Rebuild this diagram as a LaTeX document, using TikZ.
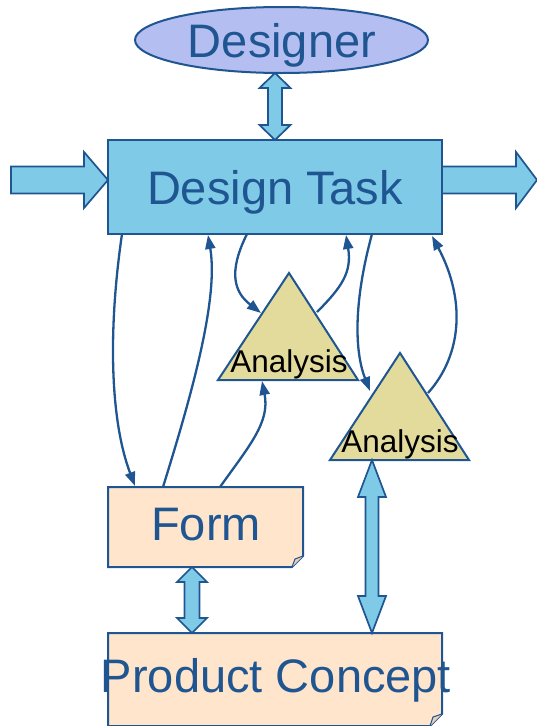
\documentclass[tikz,border=0pt]{standalone}
\usepackage{fontspec}
\setmainfont{Liberation Sans}
\usetikzlibrary{arrows.meta,calc,shapes.geometric}
\definecolor{dblue}{RGB}{31,85,145}
\definecolor{sky}{RGB}{127,202,230}
\definecolor{lav}{RGB}{180,190,240}
\definecolor{khaki}{RGB}{227,219,155}
\definecolor{peach}{RGB}{254,229,204}
\definecolor{flap}{RGB}{232,206,182}
\newcommand{\vdarrow}[5]{%
  \draw[blockarrow] (#1) -- ($(#1)+(#4,#5)$) -- ($(#1)+(#3,#5)$) -- ($(#2)+(#3,-#5)$) -- ($(#2)+(#4,-#5)$) -- (#2) -- ($(#2)+(-#4,-#5)$) -- ($(#2)+(-#3,-#5)$) -- ($(#1)+(-#3,#5)$) -- ($(#1)+(-#4,#5)$) -- cycle;}
\newcommand{\hsarrow}[5]{%
  \draw[blockarrow] ($(#1)+(0,-#3)$) -- ($(#2)+(-#5,-#3)$) -- ($(#2)+(-#5,-#4)$) -- (#2) -- ($(#2)+(-#5,#4)$) -- ($(#2)+(-#5,#3)$) -- ($(#1)+(0,#3)$) -- cycle;}
\tikzset{
  blockarrow/.style={draw=dblue, fill=sky, line width=1.7pt, line join=miter},
  bigtext/.style={text=dblue, font=\fontsize{47}{50}\selectfont, inner sep=0pt, anchor=base},
  antext/.style={text=black, font=\fontsize{31.5}{34}\selectfont, inner sep=0pt, anchor=base},
  shapebox/.style={draw=dblue, line width=2pt, inner sep=0pt},
  conn/.style={draw=dblue, line width=2.3pt, -{Triangle[length=14pt,width=10pt]}},
  triang/.style={draw=dblue, fill=khaki, line width=2pt, line join=miter},
  note/.style={draw=dblue, fill=peach, line width=2pt, line join=miter},
  flapst/.style={draw=dblue, fill=flap, line width=1pt, line join=round}
}
\begin{document}
\begin{tikzpicture}[x=1pt,y=-1pt]
\useasboundingbox (0,0) rectangle (537,726);
% Designer
\node[shapebox, ellipse, fill=lav, minimum width=293pt, minimum height=66pt] (designer) at (281.5,40) {};
\node[bigtext] (designertext) at (282,57) {Designer};
% Design Task
\node[shapebox, rectangle, fill=sky, minimum width=334pt, minimum height=94pt] (task) at (275,187) {};
\node[bigtext] (tasktext) at (275,204) {Design Task};
% Form
\coordinate (fnw) at (108,487);
\coordinate (fse) at (303,567);
\draw[note] (fnw) -- (fnw -| fse) -- ($(fse)+(0,-11)$) -- ($(fse)+(-11,0)$) -- (fnw |- fse) -- cycle;
\draw[flapst] ($(fse)+(0,-11)$) -- ($(fse)+(-8,-8)$) -- ($(fse)+(-11,0)$);
\node[bigtext] (formtext) at (206,540) {Form};
% Product Concept
\coordinate (pnw) at (108,633);
\coordinate (pse) at (442,726);
\draw[note] (pnw) -- (pnw -| pse) -- ($(pse)+(0,-12)$) -- ($(pse)+(-12,0)$) -- (pnw |- pse) -- cycle;
\draw[flapst] ($(pse)+(0,-12)$) -- ($(pse)+(-9,-9)$) -- ($(pse)+(-12,0)$);
\node[bigtext] (pctext) at (276,692) {Product Concept};
% Triangles
\coordinate (t1a) at (289,273);
\coordinate (t1l) at (218,380);
\coordinate (t1r) at (358,380);
\draw[triang] (t1a) -- (t1r) -- (t1l) -- cycle;
\node[antext] (an1) at (289,372) {Analysis};
\coordinate (t2a) at (400,353);
\coordinate (t2l) at (330,460);
\coordinate (t2r) at (469,460);
\draw[triang] (t2a) -- (t2r) -- (t2l) -- cycle;
\node[antext] (an2) at (400,452) {Analysis};
% block arrows
\coordinate (da1) at (275,73);
\coordinate (db1) at (275,140);
\vdarrow{da1}{db1}{7}{15.5}{15}
\coordinate (da2) at (192,567);
\coordinate (db2) at (192,633);
\vdarrow{da2}{db2}{7.5}{15}{15}
\coordinate (da3) at (372,460);
\coordinate (db3) at (372,633);
\vdarrow{da3}{db3}{6.5}{14}{37}
\coordinate (lin) at (11,180);
\coordinate (lintip) at (108,180);
\hsarrow{lin}{lintip}{13.5}{28}{24}
\coordinate (rout) at (442,180);
\coordinate (routtip) at (537,180);
\hsarrow{rout}{routtip}{13.5}{28}{21}
% thin connectors
\coordinate (c1s) at (122,234);
\coordinate (c1e) at (135,486);
\draw[conn] (c1s) .. controls (108,330) and (110,420) .. (c1e);
\coordinate (c2s) at (163,487);
\coordinate (c2e) at (208,235);
\draw[conn] (c2s) .. controls (190,400) and (219,300) .. (c2e);
\coordinate (c3s) at (247,234);
\coordinate (c3e) at (261,313);
\draw[conn] (c3s) .. controls (228,272) and (234,292) .. (c3e);
\coordinate (c4s) at (317,312);
\coordinate (c4e) at (346,235);
\draw[conn] (c4s) .. controls (342,287) and (352,272) .. (c4e);
\coordinate (c5s) at (220,487);
\coordinate (c5e) at (262,381);
\draw[conn] (c5s) .. controls (250,445) and (270,422) .. (c5e);
\coordinate (c6s) at (372,234);
\coordinate (c6e) at (370,391);
\draw[conn] (c6s) .. controls (354,300) and (354,350) .. (c6e);
\coordinate (c7s) at (428,393);
\coordinate (c7e) at (432,236);
\draw[conn] (c7s) .. controls (462,355) and (466,300) .. (c7e);
\end{tikzpicture}
\end{document}
